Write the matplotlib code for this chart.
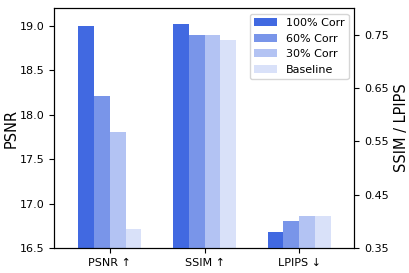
import matplotlib
matplotlib.use("Agg")
import matplotlib.pyplot as plt
import numpy as np

metrics = ["PSNR ↑", "SSIM ↑", "LPIPS ↓"]
settings = ["100% Corr", "60% Corr", "30% Corr", "Baseline"]

psnr = [19.00, 18.21, 17.80, 16.71]
ssim = [0.770, 0.750, 0.750, 0.740]
lpips = [0.380, 0.400, 0.410, 0.410]

alphas = [1.0, 0.7, 0.4, 0.2]
base_color = "royalblue"

fig = plt.figure(figsize=(4.09, 2.73), dpi=100)
ax = fig.add_axes([0.132, 0.0916, 0.734, 0.879])
ax2 = ax.twinx()

x = np.arange(len(metrics))
width = 0.167

# PSNR on the left axis, SSIM / LPIPS on the right one
for i, label in enumerate(settings):
    off = (i - 1.5) * width
    ax.bar(x[0] + off, psnr[i], width, color=base_color, alpha=alphas[i], label=label)
    ax2.bar(x[1:] + off, [ssim[i], lpips[i]], width, color=base_color, alpha=alphas[i])

ax.set_ylim(16.5, 19.2)
ax.set_yticks([16.5, 17.0, 17.5, 18.0, 18.5, 19.0])
ax2.set_ylim(0.35, 0.80)
ax2.set_yticks([0.35, 0.45, 0.55, 0.65, 0.75])
ax.set_xlim(-0.59, 2.58)

ax.set_xticks(x)
ax.set_xticklabels(metrics)
ax.tick_params(labelsize=8)
ax2.tick_params(labelsize=8)
ax.set_ylabel("PSNR", fontsize=10.5, labelpad=1)
ax2.set_ylabel("SSIM / LPIPS", fontsize=10.5, labelpad=4)

ax.legend(loc="upper right", fontsize=8)

fig.savefig("out.png", dpi=100)
